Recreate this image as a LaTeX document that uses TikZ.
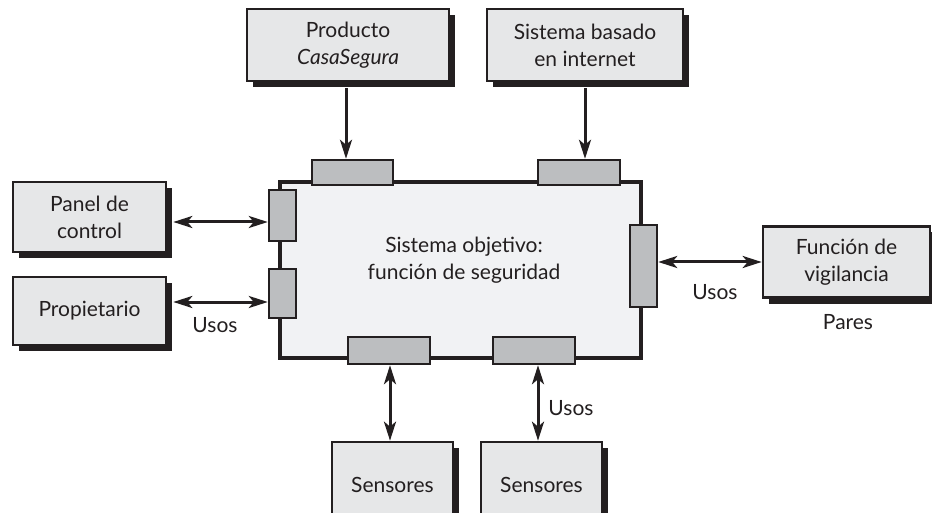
\documentclass[tikz,border=0pt]{standalone}
\usepackage{fontspec}
\setmainfont{Lato}
\usetikzlibrary{arrows.meta,shadows}
\definecolor{ink}{HTML}{231F20}
\definecolor{boxfill}{HTML}{E6E7E8}
\definecolor{mainfill}{HTML}{F1F2F4}
\definecolor{portfill}{HTML}{BCBEC0}
\begin{document}
\begin{tikzpicture}[x=1pt,y=-1pt,
  font=\fontsize{21}{27}\selectfont, text=ink,
  box/.style={draw=ink, line width=2.6pt, fill=boxfill, align=center,
    drop shadow={shadow xshift=6pt,shadow yshift=-6pt,fill=ink,opacity=1}},
  port/.style={draw=ink, line width=2.4pt, fill=portfill},
  lbl/.style={inner sep=0pt},
  arr/.style={draw=ink, line width=3pt, -{Stealth[length=19pt,width=12pt,inset=5pt]}},
  biarr/.style={draw=ink, line width=3pt, {Stealth[length=19pt,width=12pt,inset=5pt]}-{Stealth[length=19pt,width=12pt,inset=5pt]}}]
\useasboundingbox (0,0) rectangle (932,513);
\clip (0,0) rectangle (932,513);
% main box
\node[draw=ink, line width=4.5pt, fill=mainfill, minimum width=361pt, minimum height=176pt, inner sep=0pt] (main) at (460.5,270) {};
\node[lbl, align=center] (maintxt) at (464,260) {Sistema objetivo:\\función de seguridad};
% ports
\node[port, minimum width=81pt, minimum height=25pt, inner sep=0pt] (tp1) at (352.5,172.5) {};
\node[port, minimum width=82pt, minimum height=25pt, inner sep=0pt] (tp2) at (579,172.5) {};
\node[port, minimum width=27pt, minimum height=51pt, inner sep=0pt] (lp1) at (282.5,215.5) {};
\node[port, minimum width=27pt, minimum height=49pt, inner sep=0pt] (lp2) at (282.5,293.5) {};
\node[port, minimum width=27pt, minimum height=82pt, inner sep=0pt] (rp) at (643.5,266) {};
\node[port, minimum width=82pt, minimum height=27pt, inner sep=0pt] (bp1) at (389,350.5) {};
\node[port, minimum width=82pt, minimum height=27pt, inner sep=0pt] (bp2) at (534,350.5) {};
% outer boxes
\node[box, minimum width=202pt, minimum height=72pt, inner sep=0pt] (prod) at (348,45) {Producto\\\textit{CasaSegura}};
\node[box, minimum width=196pt, minimum height=72pt, inner sep=0pt] (inet) at (585,45) {Sistema basado\\en internet};
\node[box, minimum width=153pt, minimum height=70pt, inner sep=0pt] (panel) at (89.5,217) {Panel de\\control};
\node[box, minimum width=153pt, minimum height=68pt, inner sep=0pt] (prop) at (89.5,311) {Propietario};
\node[box, minimum width=167pt, minimum height=71pt, inner sep=0pt] (fun) at (846.5,262) {Función de\\vigilancia};
\node[box, minimum width=121pt, minimum height=86pt, inner sep=0pt] (s1) at (392.5,485) {Sensores};
\node[box, minimum width=121pt, minimum height=86pt, inner sep=0pt] (s2) at (541.5,485) {Sensores};
% connectors
\draw[arr] ([xshift=-2pt,yshift=-6pt]prod.south) -- ([xshift=-2pt]prod.south |- tp1.north);
\draw[arr] ([yshift=-6pt]inet.south) -- (inet.south |- tp2.north);
\draw[biarr] ([xshift=6pt,yshift=-5pt]panel.east) -- ([yshift=-5pt]panel.east -| lp1.west);
\draw[biarr] ([xshift=6pt,yshift=9pt]prop.east) -- ([yshift=9pt]prop.east -| lp2.west);
\draw[biarr] (fun.west -| rp.east) -- (fun.west);
\draw[biarr] ([xshift=1pt]bp1.south) -- ([xshift=1pt]bp1.south |- s1.north);
\draw[biarr] ([xshift=4pt]bp2.south) -- ([xshift=4pt]bp2.south |- s2.north);
% labels
\node[lbl] (u1) at (215,325) {Usos};
\node[lbl] (u2) at (715,292) {Usos};
\node[lbl] (u3) at (571,408) {Usos};
\node[lbl] (pares) at (848,322) {Pares};
\end{tikzpicture}
\end{document}
